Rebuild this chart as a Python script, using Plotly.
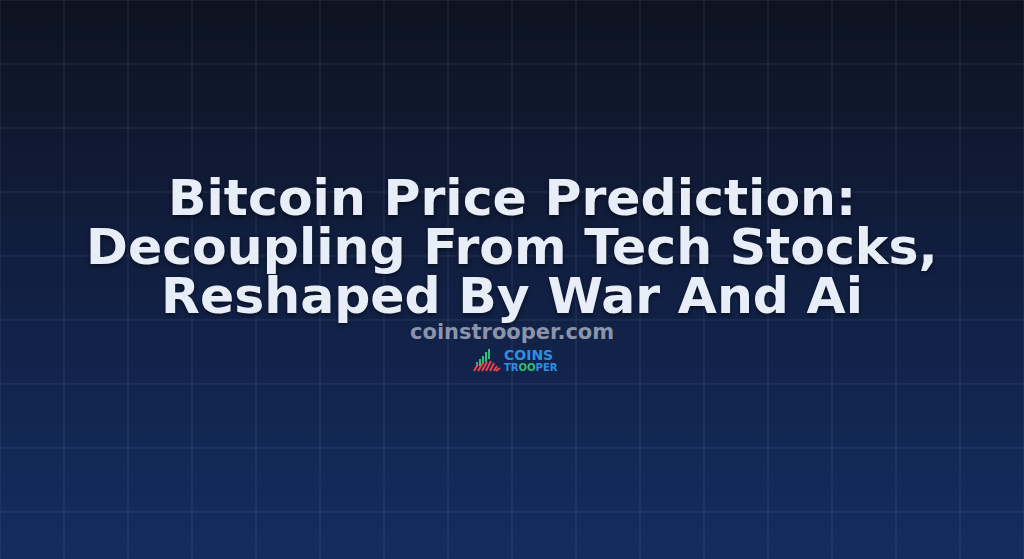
import plotly.graph_objects as go

W, H = 1024, 559

title_lines = [
    "Bitcoin Price Prediction:",
    "Decoupling From Tech Stocks,",
    "Reshaped By War And Ai",
]
title_y = [197, 246, 295]
site_label = "coinstrooper.com"
logo_top = "COINS"
logo_bottom = "TR<span style='color:#2fbf71'>OO</span>PER"

bg_top, bg_mid, bg_bottom = "#0e1320", "#111f42", "#142d60"
grid_step = 64

fig = go.Figure()

# background gradient
fig.add_trace(go.Scatter(
    x=[0, W, W, 0, 0], y=[0, 0, H, H, 0], mode="lines",
    line=dict(width=0), fill="toself",
    fillgradient=dict(type="vertical", start=0, stop=H,
                      colorscale=[[0, bg_top], [0.5, bg_mid], [1, bg_bottom]]),
    hoverinfo="skip", showlegend=False,
))

shapes = []
for gx in range(0, W + 1, grid_step):
    shapes.append(dict(type="line", xref="x", yref="y", x0=gx, x1=gx, y0=0, y1=H,
                       line=dict(color="rgba(160,180,220,0.15)", width=1), layer="above"))
for gy in range(0, H + 1, grid_step):
    shapes.append(dict(type="line", xref="x", yref="y", x0=0, x1=W, y0=gy, y1=gy,
                       line=dict(color="rgba(160,180,220,0.15)", width=1), layer="above"))

# logo icon (decorative)
green = "#2fbf71"
red = "#e8434f"
icon = [
    # green rising bars
    (477, 367, 477, 362, green), (480, 366, 480, 359, green), (483, 364, 483, 356, green),
    (486, 362, 486, 352, green), (489, 359, 489, 349, green),
    # red slanted strokes
    (474, 371, 478, 364, red), (478, 371, 483, 363, red), (482, 371, 487, 362, red),
    (486, 371, 491, 361, red), (490, 371, 494, 363, red), (494, 371, 497, 366, red),
    (496, 371, 500, 368, red),
]
for x0, y0, x1, y1, c in icon:
    shapes.append(dict(type="line", xref="x", yref="y", x0=x0, y0=y0, x1=x1, y1=y1,
                       line=dict(color=c, width=2), layer="above"))

annotations = []
for line, ty in zip(title_lines, title_y):
    annotations.append(dict(
        x=W / 2, y=ty, xref="x", yref="y", text=f"<b>{line}</b>", showarrow=False,
        xanchor="center", yanchor="middle",
        font=dict(family="DejaVu Sans", size=50.5, color="#e8eef8",
                  shadow="0px 2px 4px rgba(0,0,0,0.55)"),
    ))
annotations.append(dict(
    x=W / 2, y=332, xref="x", yref="y", text=f"<b>{site_label}</b>", showarrow=False,
    xanchor="center", yanchor="middle",
    font=dict(family="DejaVu Sans", size=21, color="#8a94aa"),
))
annotations.append(dict(
    x=502, y=355, xref="x", yref="y", text=f"<b>{logo_top}</b>", showarrow=False,
    xanchor="left", yanchor="middle",
    font=dict(family="DejaVu Sans", size=14, color="#2b8fe6"),
))
annotations.append(dict(
    x=502, y=367, xref="x", yref="y", text=f"<b>{logo_bottom}</b>", showarrow=False,
    xanchor="left", yanchor="middle",
    font=dict(family="DejaVu Sans", size=10, color="#2b8fe6"),
))

fig.update_layout(
    width=W, height=H, margin=dict(l=0, r=0, t=0, b=0),
    paper_bgcolor=bg_top, plot_bgcolor=bg_top,
    xaxis=dict(range=[0, W], visible=False, fixedrange=True),
    yaxis=dict(range=[H, 0], visible=False, fixedrange=True),
    shapes=shapes, annotations=annotations, showlegend=False,
)

fig.write_html(
    "out.html",
    config={"displayModeBar": False},
    post_script="document.body.style.margin='0';document.body.style.overflow='hidden';",
)
